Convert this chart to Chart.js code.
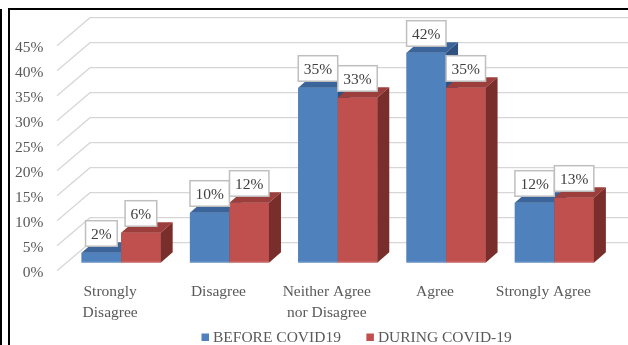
<!DOCTYPE html>
<html>
<head>
<meta charset="utf-8">
<script src="https://cdn.jsdelivr.net/npm/chart.js@4.4.1/dist/chart.umd.min.js"></script>
<style>
  html, body { margin: 0; padding: 0; background: #ffffff; }
  #wrap { width: 628px; height: 345px; position: relative; }
</style>
</head>
<body>
<div id="wrap"><canvas id="c" width="628" height="345"></canvas></div>
<script>
// Survey answers, share of respondents (%)
const categories = [['Strongly', 'Disagree'], 'Disagree', ['Neither Agree', 'nor Disagree'], 'Agree', 'Strongly Agree'];
const seriesNames = ['BEFORE COVID19', 'DURING COVID-19'];
const beforeCovid = [2, 10, 35, 42, 12];
const duringCovid = [6, 12, 33, 35, 13];
const yTickValues = [0, 5, 10, 15, 20, 25, 30, 35, 40, 45];

const FONT = '"Liberation Serif", "Times New Roman", serif';
const FONT_SIZE = 15.5;
const TEXT_GREY = '#595959';

// Face colours for the extruded columns: front, top, side
const faces = [
  { front: '#4F81BD', top: '#3B649A', side: '#2E5180' },
  { front: '#C0504D', top: '#9C3F3C', side: '#7A2E2C' }
];

// Depth of each column and of the walls behind them
const BAR_DX = 12, BAR_DY = 10.5;
const WALL_BACK_DX = 23, WALL_BACK_DY = 20;
const WALL_FRONT_DX = -10, WALL_FRONT_DY = 8;

const wallPlugin = {
  id: 'wall',
  beforeDatasetsDraw(chart) {
    const { ctx, chartArea, scales } = chart;
    const y = scales.y;
    const backLeft = chartArea.left + WALL_BACK_DX;
    const frontLeft = chartArea.left + WALL_FRONT_DX;
    ctx.save();
    ctx.strokeStyle = '#d6d6d6';
    ctx.lineWidth = 1.2;
    yTickValues.forEach(v => {
      const py = y.getPixelForValue(v);
      ctx.beginPath();
      ctx.moveTo(frontLeft, py + WALL_FRONT_DY);
      ctx.lineTo(backLeft, py - WALL_BACK_DY);
      ctx.lineTo(chart.width, py - WALL_BACK_DY);
      ctx.stroke();
    });
    ctx.restore();
  }
};

function poly(ctx, pts, color) {
  ctx.beginPath();
  ctx.moveTo(pts[0][0], pts[0][1]);
  for (let i = 1; i < pts.length; i++) ctx.lineTo(pts[i][0], pts[i][1]);
  ctx.closePath();
  ctx.fillStyle = color;
  ctx.fill();
}

const columnPlugin = {
  id: 'columns3d',
  afterDatasetsDraw(chart) {
    const { ctx } = chart;
    const metas = chart.data.datasets.map((_, d) => chart.getDatasetMeta(d));
    ctx.save();
    // draw category by category so that each column hides the side of its left neighbour
    for (let i = 0; i < categories.length; i++) {
      metas.forEach((meta, d) => {
        const bar = meta.data[i];
        const { x, y, base, width } = bar.getProps(['x', 'y', 'base', 'width'], true);
        const l = x - width / 2, r = x + width / 2;
        const c = faces[d];
        poly(ctx, [[l, y], [r, y], [r, base], [l, base]], c.front);
        poly(ctx, [[l, y], [r, y], [r + BAR_DX, y - BAR_DY], [l + BAR_DX, y - BAR_DY]], c.top);
        poly(ctx, [[r, y], [r + BAR_DX, y - BAR_DY], [r + BAR_DX, base - BAR_DY], [r, base]], c.side);
        ctx.fillStyle = 'rgba(255,255,255,0.35)';
        ctx.fillRect(l, base - 1, width, 1);
      });
    }
    // value boxes above each column
    ctx.font = FONT_SIZE + 'px ' + FONT;
    ctx.textAlign = 'center';
    ctx.textBaseline = 'middle';
    for (let i = 0; i < categories.length; i++) {
      metas.forEach((meta, d) => {
        const bar = meta.data[i];
        const { x, y } = bar.getProps(['x', 'y'], true);
        const txt = chart.data.datasets[d].data[i] + '%';
        const w = ctx.measureText(txt).width + 11;
        const h = 25.5;
        const bottom = y - 6.5;
        ctx.fillStyle = '#ffffff';
        ctx.fillRect(x - w / 2, bottom - h, w, h);
        ctx.strokeStyle = '#bfbfbf';
        ctx.lineWidth = 1.5;
        ctx.strokeRect(x - w / 2, bottom - h, w, h);
        ctx.fillStyle = '#404040';
        ctx.fillText(txt, x, bottom - h / 2 + 1);
      });
    }
    ctx.restore();
  }
};

const legendAndFramePlugin = {
  id: 'legendFrame',
  afterDraw(chart) {
    const { ctx } = chart;
    ctx.save();
    // legend
    ctx.font = FONT_SIZE + 'px ' + FONT;
    ctx.textAlign = 'left';
    ctx.textBaseline = 'middle';
    let lx = 201.5;
    const ly = 338;
    chart.data.datasets.forEach((ds, d) => {
      ctx.fillStyle = ds.backgroundColor;
      ctx.fillRect(lx, ly - 4.5, 7.5, 7.5);
      const tx = lx + 11.5;
      ctx.fillStyle = TEXT_GREY;
      ctx.fillText(ds.label, tx, ly);
      lx = tx + ctx.measureText(ds.label).width + 25.5;
    });
    // frame
    ctx.fillStyle = '#000000';
    ctx.fillRect(0, 9, 2, chart.height - 9);
    ctx.fillRect(8, 8, 2, chart.height - 8);
    ctx.fillRect(8, 8, chart.width - 8, 2);
    ctx.restore();
  }
};

new Chart(document.getElementById('c'), {
  type: 'bar',
  data: {
    labels: categories,
    datasets: [
      { label: seriesNames[0], data: beforeCovid, backgroundColor: faces[0].front, borderWidth: 0 },
      { label: seriesNames[1], data: duringCovid, backgroundColor: faces[1].front, borderWidth: 0 }
    ]
  },
  options: {
    responsive: false,
    animation: false,
    events: [],
    devicePixelRatio: 1,
    datasets: { bar: { categoryPercentage: 0.73, barPercentage: 1.0 } },
    layout: { padding: { top: 37.7, right: 19.5, bottom: 12.3, left: 0 } },
    plugins: { legend: { display: false }, tooltip: { enabled: false } },
    scales: {
      x: {
        grid: { display: false, drawTicks: false },
        border: { display: false },
        ticks: {
          color: TEXT_GREY,
          font: { family: FONT, size: FONT_SIZE, lineHeight: 1.355 },
          padding: 18.5,
          labelOffset: -11,
          maxRotation: 0,
          autoSkip: false
        },
        afterFit(s) { s.height = 70; }
      },
      y: {
        min: 0,
        max: 45,
        grid: { display: false, drawTicks: false },
        border: { display: false },
        ticks: {
          stepSize: 5,
          color: TEXT_GREY,
          font: { family: FONT, size: FONT_SIZE },
          padding: 23.7,
          labelOffset: 10,
          callback: v => v + '%'
        },
        afterFit(s) { s.width = 67; }
      }
    }
  },
  plugins: [wallPlugin, columnPlugin, legendAndFramePlugin]
});
</script>
</body>
</html>
